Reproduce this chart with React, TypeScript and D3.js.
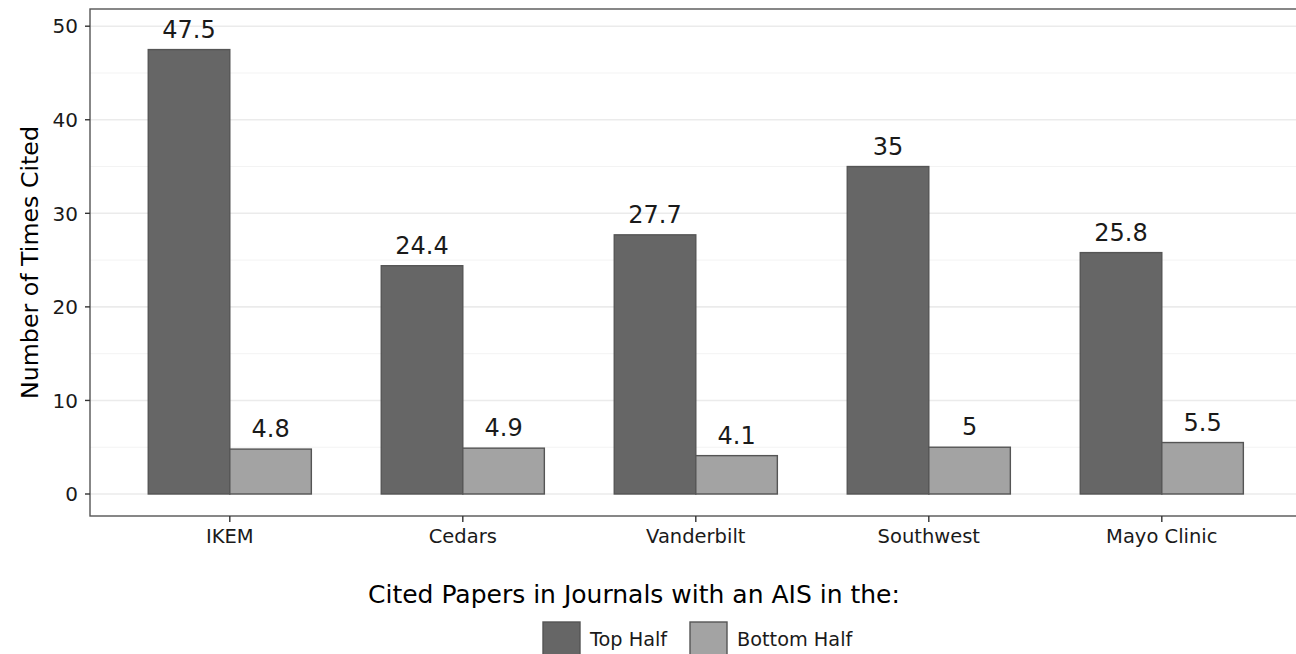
import React, { useRef, useEffect } from 'react'
import * as d3 from 'd3'

const categories = ['IKEM', 'Cedars', 'Vanderbilt', 'Southwest', 'Mayo Clinic']
const seriesNames = ['Top Half', 'Bottom Half']
const topHalf = [47.5, 24.4, 27.7, 35, 25.8]
const bottomHalf = [4.8, 4.9, 4.1, 5, 5.5]
const yTicks = [0, 10, 20, 30, 40, 50]
const yMinor = [5, 15, 25, 35, 45]
const fills = ['#666666', '#a3a3a3']

const W = 1296
const H = 654
const FONT = '"DejaVu Sans", Verdana, sans-serif'

export const BarChart: React.FC = () => {
  const ref = useRef<SVGSVGElement>(null)
  useEffect(() => {
    const svg = d3.select(ref.current)
    svg.selectAll('*').remove()

    const left = 90
    const top = 9
    const bottom = 516
    const step = 233
    // ggplot-style discrete expansion: 0.6 of a step on each side
    const right = left + step * (categories.length - 1 + 1.2)

    const x = d3.scaleBand().domain(categories).range([left, right]).paddingInner(0.3).paddingOuter(0.25)
    const xs = d3.scaleBand().domain(seriesNames).range([0, x.bandwidth()])
    const y = d3.scaleLinear().domain([0, 50]).range([494, 26.2])

    const g = svg.append('g')

    g.append('rect')
      .attr('x', left).attr('y', top).attr('width', right - left).attr('height', bottom - top)
      .attr('fill', 'white')

    g.selectAll('line.minor').data(yMinor).join('line')
      .attr('x1', left).attr('x2', right)
      .attr('y1', d => y(d)).attr('y2', d => y(d))
      .attr('stroke', '#f3f3f3').attr('stroke-width', 1)

    g.selectAll('line.major').data(yTicks).join('line')
      .attr('x1', left).attr('x2', right)
      .attr('y1', d => y(d)).attr('y2', d => y(d))
      .attr('stroke', '#ebebeb').attr('stroke-width', 1.6)

    const rows = categories.map((c, i) => ({ c, vals: [topHalf[i], bottomHalf[i]] }))
    const grp = g.selectAll('g.grp').data(rows).join('g')
      .attr('transform', d => `translate(${x(d.c)},0)`)

    grp.selectAll('rect').data(d => d.vals.map((v, j) => ({ v, s: seriesNames[j], j }))).join('rect')
      .attr('x', d => xs(d.s)!)
      .attr('width', xs.bandwidth())
      .attr('y', d => y(d.v))
      .attr('height', d => y(0) - y(d.v))
      .attr('fill', d => fills[d.j])
      .attr('stroke', '#555555')
      .attr('stroke-width', 1.4)

    grp.selectAll('text').data(d => d.vals.map((v, j) => ({ v, s: seriesNames[j] }))).join('text')
      .attr('x', d => xs(d.s)! + xs.bandwidth() / 2)
      .attr('y', d => y(d.v) - 12)
      .attr('text-anchor', 'middle')
      .style('font-family', FONT)
      .style('font-size', '24px')
      .attr('fill', '#1a1a1a')
      .text(d => String(d.v))

    // panel border
    g.append('rect')
      .attr('x', left).attr('y', top).attr('width', right - left).attr('height', bottom - top)
      .attr('fill', 'none').attr('stroke', '#555555').attr('stroke-width', 1.4)

    // y axis ticks and labels
    g.selectAll('line.yt').data(yTicks).join('line')
      .attr('x1', left - 5).attr('x2', left)
      .attr('y1', d => y(d)).attr('y2', d => y(d))
      .attr('stroke', '#333333').attr('stroke-width', 1.4)
    g.selectAll('text.yl').data(yTicks).join('text')
      .attr('x', left - 12).attr('y', d => y(d))
      .attr('dy', '0.36em')
      .attr('text-anchor', 'end')
      .style('font-family', FONT).style('font-size', '20px')
      .attr('fill', '#1a1a1a')
      .text(d => String(d))

    // x axis ticks and labels
    g.selectAll('line.xt').data(categories).join('line')
      .attr('x1', d => x(d)! + x.bandwidth() / 2).attr('x2', d => x(d)! + x.bandwidth() / 2)
      .attr('y1', bottom).attr('y2', bottom + 6)
      .attr('stroke', '#333333').attr('stroke-width', 1.4)
    g.selectAll('text.xl').data(categories).join('text')
      .attr('x', d => x(d)! + x.bandwidth() / 2).attr('y', 543)
      .attr('text-anchor', 'middle')
      .style('font-family', FONT).style('font-size', '19.5px')
      .attr('fill', '#1a1a1a')
      .text(d => d)

    // y axis title
    g.append('text')
      .attr('transform', `translate(38,${(top + bottom) / 2}) rotate(-90)`)
      .attr('text-anchor', 'middle')
      .style('font-family', FONT).style('font-size', '23.7px')
      .attr('fill', '#000')
      .text('Number of Times Cited')

    // legend
    g.append('text')
      .attr('x', 368).attr('y', 603)
      .style('font-family', FONT).style('font-size', '25px')
      .attr('fill', '#000')
      .text('Cited Papers in Journals with an AIS in the:')

    const keyX = [543, 690]
    const leg = g.selectAll('g.leg').data(seriesNames).join('g')
      .attr('transform', (d, i) => `translate(${keyX[i]},622)`)
    leg.append('rect')
      .attr('width', 37).attr('height', 37)
      .attr('fill', (d, i) => fills[i])
      .attr('stroke', '#555555').attr('stroke-width', 1.4)
    leg.append('text')
      .attr('x', 47).attr('y', 24)
      .style('font-family', FONT).style('font-size', '19.3px')
      .attr('fill', '#1a1a1a')
      .text(d => d)
  }, [])

  return (
    <svg ref={ref} width={W} height={H} style={{ position: 'absolute', left: 0, top: 0, background: 'white' }} />
  )
}

const App: React.FC = () => (
  <div>
    <BarChart />
  </div>
)

export default App
